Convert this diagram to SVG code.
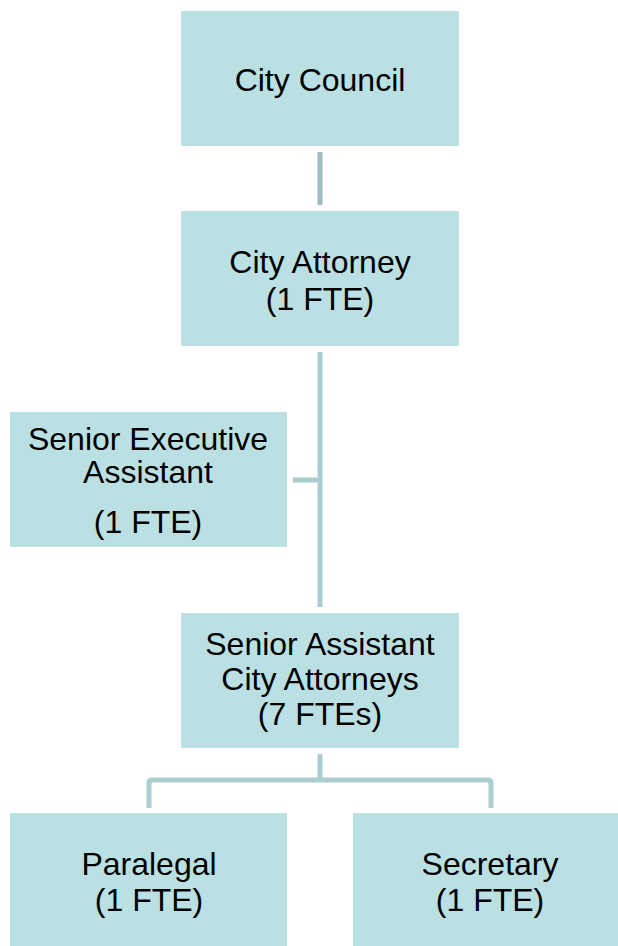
<svg xmlns="http://www.w3.org/2000/svg" width="618" height="946" viewBox="0 0 618 946">
<style>
.box{fill:#BBE0E3;}
.t{font-family:"Liberation Sans",Arial,sans-serif;font-size:32px;fill:#000;text-anchor:middle;}
.c{stroke:#AACDD0;stroke-width:5;fill:none;}
</style>
<rect width="618" height="946" fill="#fff"/>
<g id="connectors">
<line class="c" x1="320" y1="152" x2="320" y2="205" style="stroke:#9DBDC1"/>
<line class="c" x1="320" y1="352" x2="320" y2="607"/>
<line class="c" x1="293" y1="480" x2="320" y2="480"/>
<line class="c" x1="320" y1="754" x2="320" y2="780"/>
<path class="c" d="M149 808 V783 Q149 780 152 780 H488 Q491 780 491 783 V808"/>
</g>
<g id="city-council">
<rect class="box" x="181" y="11" width="278" height="135"/>
<text class="t" x="320" y="91">City Council</text>
</g>
<g id="city-attorney">
<rect class="box" x="181" y="211" width="278" height="135"/>
<text class="t" x="320" y="273">City Attorney</text>
<text class="t" x="320" y="310">(1 FTE)</text>
</g>
<g id="senior-executive-assistant">
<rect class="box" x="10" y="412" width="277" height="135"/>
<text class="t" x="148" y="450">Senior Executive</text>
<text class="t" x="148" y="483">Assistant</text>
<text class="t" x="148" y="533">(1 FTE)</text>
</g>
<g id="senior-assistant-city-attorneys">
<rect class="box" x="181" y="613" width="278" height="135"/>
<text class="t" x="320" y="655">Senior Assistant</text>
<text class="t" x="320" y="690">City Attorneys</text>
<text class="t" x="320" y="725">(7 FTEs)</text>
</g>
<g id="paralegal">
<rect class="box" x="10" y="813" width="277" height="133"/>
<text class="t" x="149" y="875">Paralegal</text>
<text class="t" x="149" y="911">(1 FTE)</text>
</g>
<g id="secretary">
<rect class="box" x="353" y="813" width="277" height="133"/>
<text class="t" x="490" y="875">Secretary</text>
<text class="t" x="490" y="911">(1 FTE)</text>
</g>
</svg>
